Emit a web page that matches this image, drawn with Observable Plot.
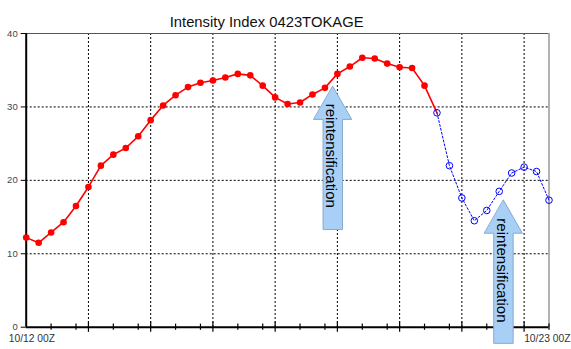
<!DOCTYPE html>
<html><head><meta charset="utf-8">
<script src="https://cdn.jsdelivr.net/npm/d3@7"></script>
<script src="https://cdn.jsdelivr.net/npm/@observablehq/plot@0.6"></script>
<style>body{margin:0;background:#fff} #chart svg{display:block}</style>
</head><body><div id="chart"></div>
<script>
// 6-hourly steps from 10/12 00Z
const observed = [12.2, 11.5, 12.9, 14.3, 16.5, 19.1, 22.0, 23.5, 24.4, 26.0, 28.2, 30.2, 31.6, 32.7, 33.3, 33.6, 34.0, 34.5, 34.3, 32.9, 31.3, 30.4, 30.6, 31.7, 32.6, 34.5, 35.5, 36.7, 36.6, 35.9, 35.4, 35.3, 32.9];
const forecast = [29.2, 22.0, 17.6, 14.5, 15.9, 18.5, 21.0, 21.8, 21.2, 17.3];
const yTicks = [0, 10, 20, 30, 40];
const xMajor = [5, 10, 15, 20, 25, 30, 35, 40];
const xMinor = [2, 4, 7, 9, 12, 14, 17, 19, 22, 24, 27, 29, 32, 34, 37, 39, 42];
const xLabels = ["10/12 00Z", "10/23 00Z"];
const xLabelPos = [0, 42];
const title = "Intensity Index 0423TOKAGE";
const arrowX = [24.63, 38.34];
const arrowTip = [32.8, 17.3];
const arrowBase = [13.3, -2.2];
const arrowTextY = [23.35, 7.73];
const arrowText = "reintensification";

const obsData = observed.map((v, i) => ({i, v}));
const fcData = forecast.map((v, k) => ({i: observed.length + k, v}));
const redLine = obsData.concat([fcData[0]]);

const headHalf = 1.52, shaftHalf = 0.78, headLen = 4.5;
const arrowPoly = [];
arrowX.forEach((x, a) => {
  const t = arrowTip[a], b = arrowBase[a], h = t - headLen;
  [[x, t], [x + headHalf, h], [x + shaftHalf, h], [x + shaftHalf, b],
   [x - shaftHalf, b], [x - shaftHalf, h], [x - headHalf, h]]
    .forEach(([px, py]) => arrowPoly.push({a, x: px, y: py}));
});
const arrowLabels = arrowX.map((x, a) => ({x, y: arrowTextY[a]}));

const chart = Plot.plot({
  width: 571,
  height: 349,
  marginLeft: 25.7,
  marginRight: 22.5,
  marginTop: 33,
  marginBottom: 22.3,
  style: {fontFamily: "'Liberation Sans', Arial, sans-serif", background: "#fff", overflow: "visible"},
  x: {domain: [0, 42], axis: null},
  y: {domain: [0, 40], axis: null},
  marks: [
    // grid
    Plot.ruleY([10, 20, 30], {stroke: "#000", strokeWidth: 1, strokeDasharray: "2,2"}),
    Plot.ruleX(xMajor, {stroke: "#000", strokeWidth: 1, strokeDasharray: "2,2"}),
    // frame top/right
    Plot.ruleY([40], {stroke: "#555", strokeWidth: 1}),
    Plot.ruleX([42], {stroke: "#999", strokeWidth: 1.5}),
    // axes lines
    Plot.ruleX([0], {stroke: "#000", strokeWidth: 2}),
    Plot.ruleY([0], {stroke: "#000", strokeWidth: 2}),
    // y ticks & labels
    Plot.axisY({ticks: yTicks, tickSize: 5, tickPadding: 3.5, fontSize: 9.5, color: "#444", stroke: "#000", label: null}),
    // x ticks
    Plot.ruleX(xMajor, {y1: -0.7, y2: 0.7, stroke: "#000", strokeWidth: 1.2}),
    Plot.ruleX(xMinor, {y1: -0.42, y2: 0.42, stroke: "#000", strokeWidth: 1.2}),
    // x labels
    Plot.text([xLabels[0]], {x: xLabelPos[0], frameAnchor: "bottom", text: d => d, textAnchor: "start", dx: -17.5, dy: 15, fontSize: 10.3, fill: "#333"}),
    Plot.text([xLabels[1]], {x: xLabelPos[1], frameAnchor: "bottom", text: d => d, textAnchor: "end", dx: 21.5, dy: 15, fontSize: 10.3, fill: "#333"}),
    // arrows
    Plot.line(arrowPoly, {x: "x", y: "y", z: "a", curve: "linear-closed", fill: "#a8cff5", stroke: "#86a9cf", strokeWidth: 1}),
    Plot.text(arrowLabels, {x: "x", y: "y", text: () => arrowText, rotate: 90, fontSize: 15, fill: "#000", dx: -1.5}),
    // data
    Plot.line(redLine, {x: "i", y: "v", stroke: "#ff0000", strokeWidth: 1.6}),
    Plot.dot(obsData, {x: "i", y: "v", r: 3.3, fill: "#ff0000", stroke: "none"}),
    Plot.line(fcData, {x: "i", y: "v", stroke: "#0000ff", strokeWidth: 1, strokeDasharray: "2,2"}),
    Plot.dot(fcData, {x: "i", y: "v", r: 3.3, fill: "none", stroke: "#0000ff", strokeWidth: 1}),
    // title
    Plot.text([title], {frameAnchor: "top", text: d => d, dx: -21, dy: -17, fontSize: 14.8, fill: "#111"})
  ]
});
document.getElementById("chart").appendChild(chart);
</script>
</body></html>
